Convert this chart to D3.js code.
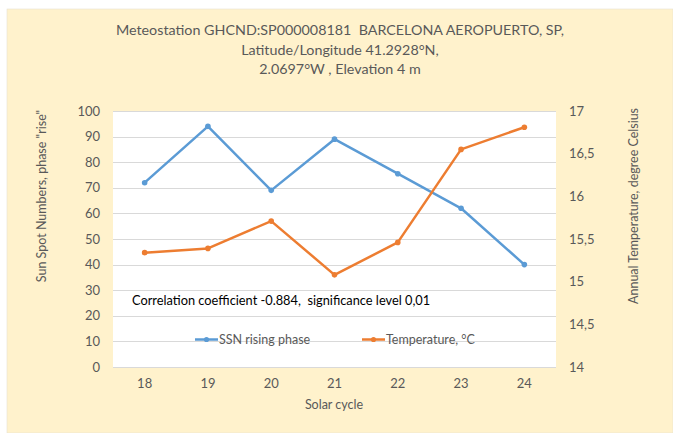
<!DOCTYPE html>
<html><head><meta charset="utf-8">
<script src="https://cdn.jsdelivr.net/npm/d3@7"></script>
<style>
html,body{margin:0;padding:0;background:#fff;}
svg text{font-family:Lato,"Open Sans",sans-serif;white-space:pre;}
</style></head>
<body><svg id="c" width="673" height="433"></svg>
<script>
const cycles = ["18","19","20","21","22","23","24"];
const ssnRising = [72, 94, 69, 89, 75.5, 62, 40];
const temperature = [15.34, 15.39, 15.71, 15.08, 15.46, 16.55, 16.81];
const leftTicks = [0,10,20,30,40,50,60,70,80,90,100];
const rightTicks = [14,14.5,15,15.5,16,16.5,17];
const titleLines = ["Meteostation GHCND:SP000008181  BARCELONA AEROPUERTO, SP,","Latitude/Longitude 41.2928°N,","2.0697°W , Elevation 4 m"];

const svg = d3.select("#c");
const W=673,H=433;
svg.append("rect").attr("x",7).attr("y",9).attr("width",W-7).attr("height",H-9).attr("fill","#fff2cc").attr("stroke","#e6e0d0").attr("stroke-width",0.6);

const m={l:113,r:556,t:111,b:367};
svg.append("rect").attr("x",m.l).attr("y",m.t).attr("width",m.r-m.l).attr("height",m.b-m.t).attr("fill","#fff");

const x=d3.scaleBand().domain(cycles).range([m.l,m.r]);
const yL=d3.scaleLinear().domain([0,100]).range([m.b,m.t]);
const yR=d3.scaleLinear().domain([14,17]).range([m.b,m.t]);
const txt="#595959";

// grid
svg.append("g").selectAll("line").data(leftTicks).join("line")
 .attr("x1",m.l).attr("x2",m.r).attr("y1",d=>Math.round(yL(d))+0.5).attr("y2",d=>Math.round(yL(d))+0.5)
 .attr("stroke","#d9d9d9").attr("stroke-width",1);

// left axis
const gL=svg.append("g").attr("transform",`translate(${m.l-13},0)`).call(d3.axisLeft(yL).tickValues(leftTicks).tickSize(0).tickPadding(0));
gL.select(".domain").remove();
gL.selectAll("text").attr("fill",txt).style("font-size","13px");

const gR=svg.append("g").attr("transform",`translate(${m.r+13},0)`).call(d3.axisRight(yR).tickValues(rightTicks).tickSize(0).tickPadding(0).tickFormat(d=>String(d).replace(".",",")));
gR.select(".domain").remove();
gR.selectAll("text").attr("fill",txt).style("font-size","13px");

const gX=svg.append("g").attr("transform",`translate(0,${m.b+12})`).call(d3.axisBottom(x).tickSize(0).tickPadding(0));
gX.select(".domain").remove();
gX.selectAll("text").attr("fill",txt).style("font-size","13px").attr("dy","0.71em");

// titles
svg.append("text").selectAll("tspan").data(titleLines).join("tspan")
 .attr("x",340).attr("y",(d,i)=>35+i*19.5).attr("text-anchor","middle").attr("fill",txt).style("font-size","14.3px").text(d=>d);
svg.append("text").attr("x",334).attr("y",409).attr("text-anchor","middle").attr("fill",txt).style("font-size","12.5px").text("Solar cycle");
svg.append("text").attr("transform","translate(46,196) rotate(-90)").attr("text-anchor","middle").attr("fill",txt).style("font-size","12.5px").text('Sun Spot Numbers, phase "rise"');
svg.append("text").attr("transform","translate(638,206) rotate(-90)").attr("text-anchor","middle").attr("fill",txt).style("font-size","12.5px").text("Annual Temperature, degree Celsius");

svg.append("text").attr("x",132).attr("y",305).attr("fill","#000").style("font-size","12.8px").text("Correlation coefficient -0.884,  significance level 0,01");

const cx=d=>x(d)+x.bandwidth()/2;
const series=[{v:ssnRising,y:yL,c:"#5b9bd5"},{v:temperature,y:yR,c:"#ed7d31"}];
series.forEach(s=>{
 const pts=cycles.map((c,i)=>[cx(c),s.y(s.v[i])]);
 svg.append("path").attr("d",d3.line()(pts)).attr("fill","none").attr("stroke",s.c).attr("stroke-width",2.5).attr("stroke-linejoin","round");
 svg.append("g").selectAll("circle").data(pts).join("circle").attr("cx",d=>d[0]).attr("cy",d=>d[1]).attr("r",2.8).attr("fill",s.c);
});

// legend
const leg=[{t:"SSN rising phase",c:"#5b9bd5",x:195},{t:"Temperature, °C",c:"#ed7d31",x:362}];
leg.forEach(l=>{
 const g=svg.append("g");
 g.append("line").attr("x1",l.x).attr("x2",l.x+23).attr("y1",339.5).attr("y2",339.5).attr("stroke",l.c).attr("stroke-width",2.5);
 g.append("circle").attr("cx",l.x+11.5).attr("cy",339.5).attr("r",2.6).attr("fill",l.c);
 g.append("text").attr("x",l.x+24).attr("y",344).attr("fill",txt).style("font-size","12.5px").text(l.t);
});
</script></body></html>
